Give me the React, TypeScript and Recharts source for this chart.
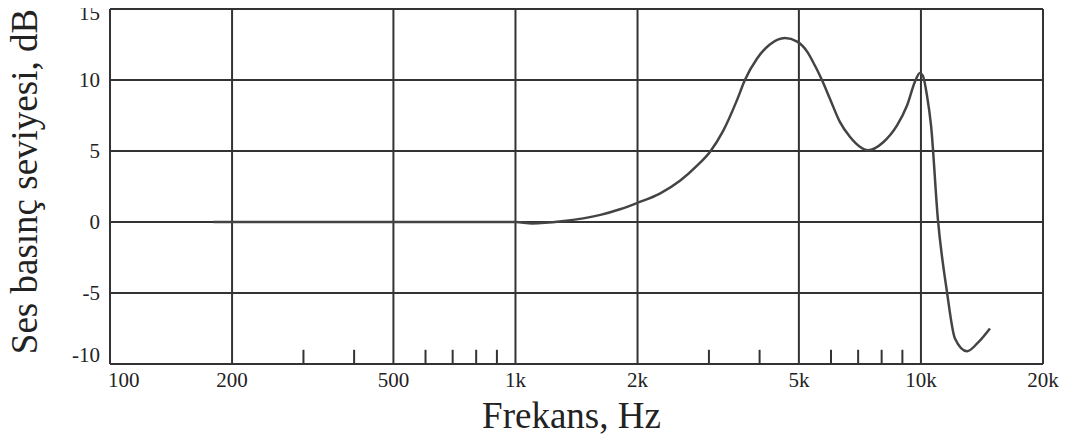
import React from "react";
import {
  LineChart,
  Line,
  XAxis,
  YAxis,
  CartesianGrid,
  ReferenceLine,
} from "recharts";

// frekans (Hz) ve ses basınç seviyesi (dB)
const freqs = [
  180, 300, 500, 800, 1000, 1100, 1300, 1620, 1810, 2000, 2270, 2545, 2800,
  3020, 3250, 3520, 3680, 3940, 4240, 4620, 4950, 5240, 5480, 5700, 5960,
  6310, 6680, 7070, 7400, 8060, 8730, 9240, 9670, 9940, 10110, 10350, 10590,
  11010, 11590, 12130, 12990, 13820, 14800,
];
const levels = [
  0, 0, 0, 0, 0, -0.1, 0.05, 0.5, 0.9, 1.35, 2.0, 2.9, 3.95, 4.95, 6.4, 8.6,
  10, 11.5, 12.5, 12.95, 12.7, 12.0, 11.0, 10, 8.7, 7.05, 6.0, 5.3, 5.05, 5.6,
  6.8, 8.2, 9.9, 10.5, 10.3, 8.9, 6.8, 0.2, -4.9, -8.2, -9.1, -8.5, -7.5,
];

const xTicks = [100, 200, 500, 1000, 2000, 5000, 10000, 20000];
const xTickLabels = ["100", "200", "500", "1k", "2k", "5k", "10k", "20k"];
const yTicks = [-10, -5, 0, 5, 10, 15];
const minorTicks = [300, 400, 600, 700, 800, 900, 3000, 4000, 6000, 7000, 8000, 9000];

const data = freqs.map((f, i) => ({ f, db: levels[i] }));

const FONT = "'Liberation Serif', 'Times New Roman', serif";
const INK = "#333";

const XTick = (props: any) => {
  const { x, y, payload, index } = props;
  const first = index === 0;
  return (
    <text
      x={first ? x - 2 : x}
      y={y}
      dy="0.71em"
      textAnchor={first ? "start" : "middle"}
      fontFamily={FONT}
      fontSize={21}
      fill="#222"
    >
      {xTickLabels[xTicks.indexOf(payload.value)]}
    </text>
  );
};

// üstteki ve alttaki etiketler çizginin biraz içine kayık
const YTick = (props: any) => {
  const { x, y, payload } = props;
  const v = payload.value;
  const shift = v === 15 ? 4 : v === -10 ? -9 : 0;
  return (
    <text
      x={x}
      y={y + shift}
      dy="0.355em"
      textAnchor="end"
      fontFamily={FONT}
      fontSize={21}
      fill="#222"
    >
      {v}
    </text>
  );
};

const YTitle = (props: any) => {
  const { viewBox } = props;
  const cx = viewBox.x + 37;
  const cy = viewBox.y + viewBox.height / 2 - 5;
  return (
    <text
      x={cx}
      y={cy}
      transform={`rotate(-90 ${cx} ${cy})`}
      textAnchor="middle"
      fontFamily={FONT}
      fontSize={37}
      fill="#222"
    >
      Ses basınç seviyesi, dB
    </text>
  );
};

const XTitle = (props: any) => {
  const { viewBox } = props;
  return (
    <text
      x={viewBox.x + viewBox.width / 2 - 5}
      y={viewBox.y + viewBox.height - 13}
      textAnchor="middle"
      fontFamily={FONT}
      fontSize={37}
      fill="#222"
    >
      Frekans, Hz
    </text>
  );
};

export default function App() {
  return (
    <div style={{ marginLeft: -8, marginTop: -8 }}>
      <LineChart
        width={1078}
        height={441}
        data={data}
        margin={{ top: 9, right: 35, bottom: 0, left: 0 }}
      >
        <CartesianGrid stroke={INK} strokeWidth={2} />
        <XAxis
          dataKey="f"
          type="number"
          scale="log"
          domain={[100, 20000]}
          ticks={xTicks}
          interval={0}
          allowDataOverflow
          axisLine={false}
          tickLine={false}
          height={77}
          tick={<XTick />}
          label={<XTitle />}
        />
        <YAxis
          type="number"
          domain={[-10, 15]}
          ticks={yTicks}
          interval={0}
          axisLine={false}
          tickLine={false}
          tickMargin={4}
          width={110}
          tick={<YTick />}
          label={<YTitle />}
        />
        {minorTicks.map((m) => (
          <ReferenceLine
            key={m}
            segment={[
              { x: m, y: -10 },
              { x: m, y: -9 },
            ]}
            stroke={INK}
            strokeWidth={2}
          />
        ))}
        <Line
          type="monotone"
          dataKey="db"
          stroke="#444"
          strokeWidth={2.5}
          dot={false}
          isAnimationActive={false}
        />
      </LineChart>
    </div>
  );
}
